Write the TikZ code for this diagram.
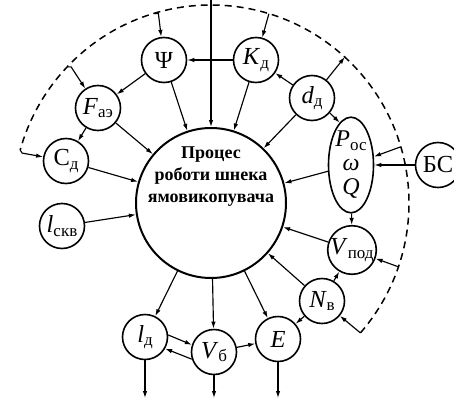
\documentclass[tikz,border=0pt]{standalone}
\usepackage{fontspec}
\setmainfont{Liberation Serif}
\usetikzlibrary{arrows.meta,shapes.geometric}
\newcommand\lbsub[2]{\textit{#1}\raisebox{-3.5pt}{\fontsize{17}{17}\selectfont #2}}
\newcommand\lbup[2]{#1\raisebox{-3.5pt}{\fontsize{17}{17}\selectfont #2}}
\begin{document}
\begin{tikzpicture}[x=1pt,y=-1pt,
  nd/.style={circle,draw,line width=1.6pt,minimum size=45pt,inner sep=0pt,font=\fontsize{24.5}{25}\selectfont},
  ell/.style={ellipse,draw,line width=1.6pt,minimum width=45pt,minimum height=94pt,inner sep=0pt,align=center,font=\fontsize{24}{24}\selectfont},
  ar/.style={line width=1.15pt,-{Latex[length=7pt,width=4.5pt]}},
  dsh/.style={line width=1.5pt,dash pattern=on 7pt off 5pt}]
\useasboundingbox (0,0) rectangle (454,404);
% nodes
\node[circle,draw,line width=2pt,minimum size=150pt] (main) at (211,203) {};
\node[font=\fontsize{18}{22}\selectfont\bfseries,align=center] (mtxt) at (211,177) {Процес\\роботи шнека\\ямовикопувача};
\node[nd] (Psi) at (164,60) {Ψ};
\node[nd] (Kd) at (256,60) {\lbsub{K}{д}};
\node[nd] (Fae) at (98,108) {\lbsub{F}{аэ}};
\node[nd] (Cd) at (66,161) {\lbup{С}{д}};
\node[nd] (lskv) at (62,226) {\lbsub{l}{скв}};
\node[nd] (dd) at (312,98) {\lbsub{d}{д}};
\node[ell] (ell) at (351,165) {\lbsub{P}{ос}\\\textit{ω}\\\textit{Q}};
\node[nd] (BS) at (438,165) {БС};
\node[nd] (Vpod) at (352,250) {\lbsub{V}{под}};
\node[nd] (Nv) at (322,301) {\lbsub{N}{в}};
\node[nd] (E) at (278,339) {\textit{E}};
\node[nd] (Vb) at (214,352) {\lbsub{V}{б}};
\node[nd] (ld) at (145,337) {\lbsub{l}{д}};
% coordinates
\coordinate (top) at (211,0);
\coordinate (aC) at (20.2,150.1);
\coordinate (aF) at (67.1,66.9);
\coordinate (aP) at (153.4,13.6);
\coordinate (aK) at (268.9,13.7);
\coordinate (aD) at (344.8,57.0);
\coordinate (aE) at (400.8,146.8);
\coordinate (aV) at (398.4,266.8);
\coordinate (aN) at (360.4,332.9);
\coordinate (dl) at (145,398);
\coordinate (db) at (214,398);
\coordinate (de) at (278,398);
% dashed arc
\draw[dsh] (aN) arc[start angle=-41,end angle=164.5,radius=198pt];
% arrows
\draw[ar] (top) -- (main);
\draw[ar] (Kd) -- (Psi);
\draw[ar] (Psi) -- (Fae);
\draw[ar] (Psi) -- (main);
\draw[ar] (Fae) -- (Cd);
\draw[ar] (Fae) -- (main);
\draw[ar] (Cd) -- (main);
\draw[ar] (lskv) -- (main);
\draw[ar] (Kd) -- (main);
\draw[ar] (dd) -- (Kd);
\draw[ar] (dd) -- (aD);
\draw[ar] (dd.-40) -- (ell.105);
\draw[ar] (dd) -- (main);
\draw[ar] (ell) -- (main);
\draw[ar] (BS) -- (ell);
\draw[ar] (ell) -- (Vpod);
\draw[ar] (Vpod) -- (main);
\draw[ar] (Nv) -- (main);
\draw[ar] (Nv) -- (Vpod);
\draw[ar] (Nv) -- (E);
\draw[ar] (main) -- (E);
\draw[ar] (main) -- (Vb);
\draw[ar] (main) -- (ld);
\draw[ar] (ld.5) -- (Vb.162);
\draw[ar] (Vb.198) -- (ld.-30);
\draw[ar] (Vb) -- (E);
\draw[ar] (ld) -- (dl);
\draw[ar] (Vb) -- (db);
\draw[ar] (E) -- (de);
% from dashed arc
\draw[ar] (aC) -- ++(2,3) -- (Cd);
\draw[ar] (aF) -- ++(4,0) -- (Fae);
\draw[ar] (aP) -- ++(5,0) -- (Psi);
\draw[ar] (aK) -- (Kd);
\draw[ar] (aE) -- (ell);
\draw[ar] (aV) -- (Vpod);
\draw[ar] (aN) -- (Nv);
\end{tikzpicture}
\end{document}
